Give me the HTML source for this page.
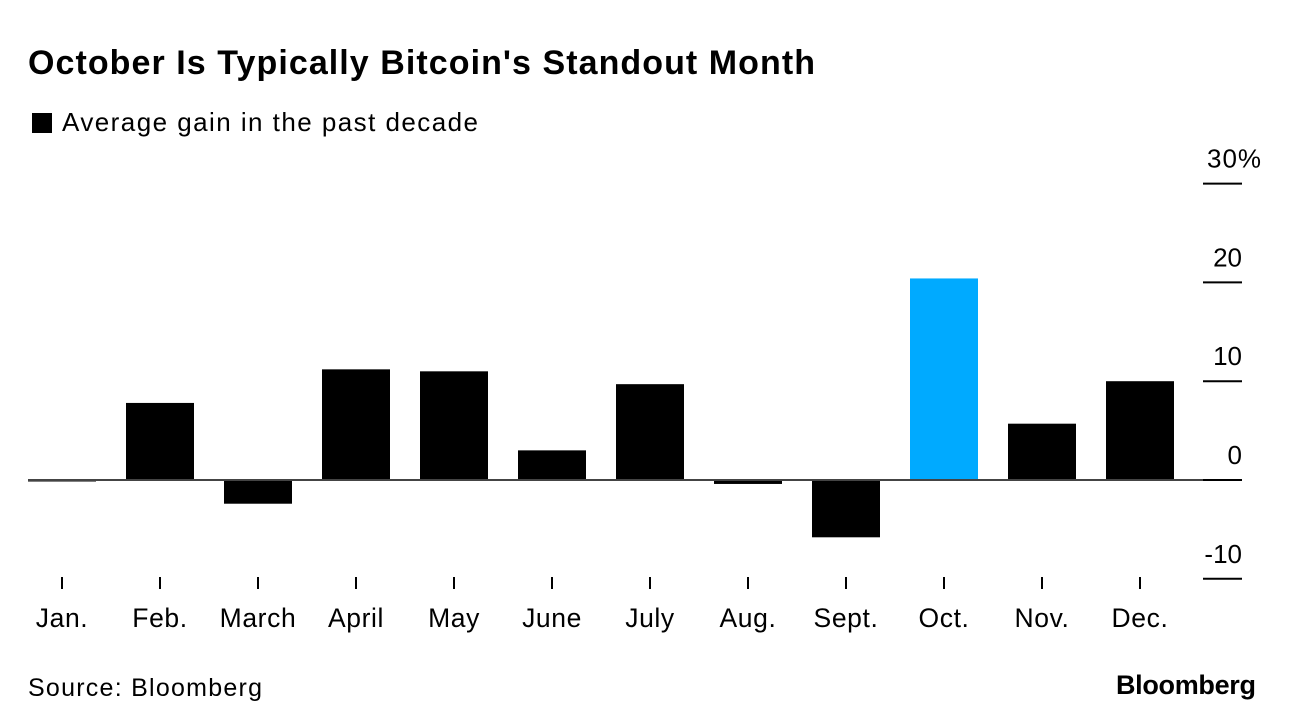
<!DOCTYPE html>
<html><head><meta charset="utf-8"><style>
body{margin:0;background:#fff;font-family:"Liberation Sans",sans-serif;}
#wrap{position:relative;width:1296px;height:728px;overflow:hidden;}
</style></head><body>
<div id="wrap">
<svg id="svg" width="1296" height="728" xmlns="http://www.w3.org/2000/svg">
<text x="28" y="74" font-size="34" font-weight="bold" fill="#000" font-family="Liberation Sans, sans-serif" textLength="787" lengthAdjust="spacing">October Is Typically Bitcoin's Standout Month</text>
<rect x="32" y="113" width="20" height="20" fill="#000"/>
<text x="62" y="131" font-size="26" fill="#000" font-family="Liberation Sans, sans-serif" textLength="416" lengthAdjust="spacing">Average gain in the past decade</text>
<text x="28" y="696" font-size="25" fill="#000" font-family="Liberation Sans, sans-serif" textLength="234" lengthAdjust="spacing">Source: Bloomberg</text>
<text x="1116" y="694" font-size="27" font-weight="bold" fill="#000" font-family="Liberation Sans, sans-serif" textLength="140" lengthAdjust="spacing">Bloomberg</text>
<g id="plot"></g>
</svg>
</div>
<script>
const categories=["Jan.","Feb.","March","April","May","June","July","Aug.","Sept.","Oct.","Nov.","Dec."];
const values=[-0.1,7.8,-2.4,11.2,11.0,3.0,9.7,-0.4,-5.8,20.4,5.7,10.0];
const highlight=["Oct."];
const yTicks=[30,20,10,0,-10];
const yTickLabels=["30%","20","10","0","-10"];
const NS="http://www.w3.org/2000/svg";
const g=document.getElementById('plot');
function y(v){return 480-v*9.88;}
function xc(i){return 62+i*98;}
function mk(t,a){const e=document.createElementNS(NS,t);for(const k in a)e.setAttribute(k,a[k]);g.appendChild(e);return e;}
categories.forEach((c,i)=>{
  const v=values[i];
  const top=Math.min(y(v),y(0)),h=Math.max(Math.abs(y(v)-y(0)),1.5);
  const r=mk('rect',{x:xc(i)-34,y:top,width:68,height:h,fill:highlight.includes(c)?'#00aaff':'#000'});
  
  
  const tk=mk('line',{x1:xc(i),x2:xc(i),y1:577,y2:589,stroke:'#000','stroke-width':2});
  
  
  const t=mk('text',{x:xc(i),y:627,'font-size':26.5,'text-anchor':'middle',fill:'#000','font-family':'Liberation Sans, sans-serif','letter-spacing':'0.6'});
  t.textContent=c;
  
  
});
const zl=mk('line',{x1:28,x2:1242,y1:y(0),y2:y(0),stroke:'#444','stroke-width':2});


yTicks.forEach((v,i)=>{
  const l=mk('line',{x1:1203,x2:1242,y1:y(v),y2:y(v),stroke:'#000','stroke-width':2});
  
  
  const t=mk('text',{x:1242,y:y(v)-16,'font-size':26,'text-anchor':'end',fill:'#000','font-family':'Liberation Sans, sans-serif'});
  if(i===0){t.setAttribute('text-anchor','start');t.setAttribute('x',1207);t.setAttribute('letter-spacing','1');}
  t.textContent=yTickLabels[i];
  
  
});
</script>
</body></html>
